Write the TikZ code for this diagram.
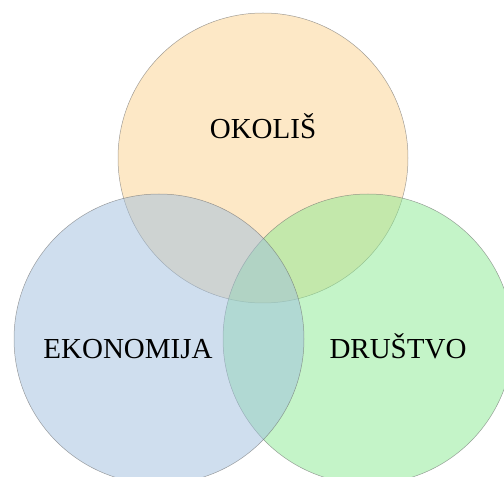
\documentclass[tikz,border=0pt]{standalone}
\usepackage{fontspec}
\setmainfont{Liberation Serif}
\definecolor{okolis}{RGB}{251,209,141}
\definecolor{ekonomija}{RGB}{160,190,222}
\definecolor{drustvo}{RGB}{137,233,145}
\begin{document}
\begin{tikzpicture}[x=1pt,y=1pt,
  krug/.style={circle, minimum size=290pt, draw=black!60, line width=0.5pt,
    fill opacity=0.5, draw opacity=0.6},
  natpis/.style={anchor=base, font=\fontsize{29}{34}\selectfont}]
  \useasboundingbox (0,0) rectangle (504,477);

  % redoslijed: okolis, drustvo, ekonomija
  \node[krug, fill=okolis] (okolis) at (263,319) {};
  \node[krug, fill=drustvo] (drustvo) at (368,138) {};
  \node[krug, fill=ekonomija] (ekonomija) at (159,138) {};

  \node[natpis] (tokolis) at (263,338) {OKOLIŠ};
  \node[natpis] (tekonomija) at (128,118) {EKONOMIJA};
  \node[natpis] (tdrustvo) at (398,118) {DRUŠTVO};
\end{tikzpicture}
\end{document}
